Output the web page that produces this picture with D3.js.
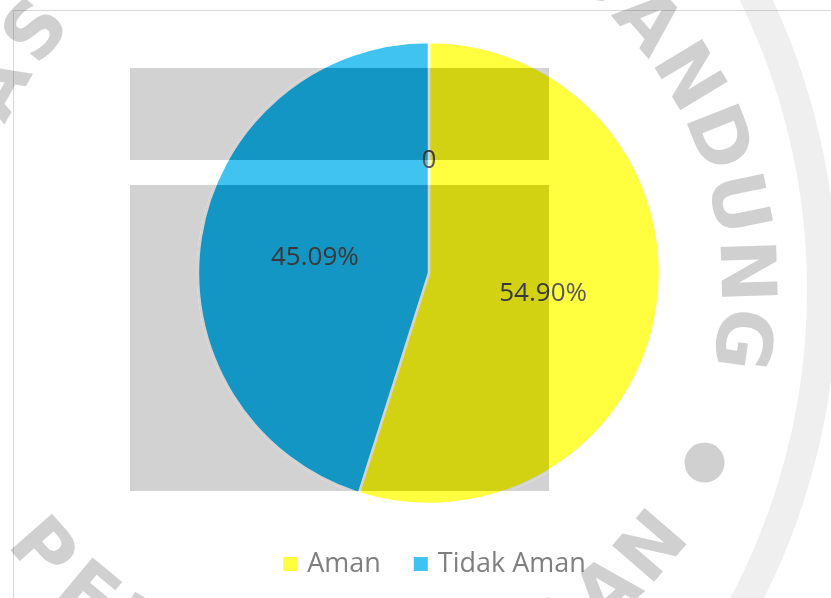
<!DOCTYPE html>
<html>
<head>
<meta charset="utf-8">
<script src="https://cdn.jsdelivr.net/npm/d3@7"></script>
<style>
  html, body { margin: 0; padding: 0; background: #fff; }
  svg { display: block; font-family: "Open Sans", sans-serif; }
  .watermark { mix-blend-mode: multiply; }
</style>
</head>
<body>
<svg id="chart" width="831" height="598"></svg>
<script>
const CATEGORIES = ["Aman", "Tidak Aman", ""];
const VALUES = [54.90, 45.09, 0];
const COLORS = ["#ffff40", "#41c3f2", "#a5a5a5"];
const LEGEND_ITEMS = ["Aman", "Tidak Aman"];

// watermark (scanned page stamp) lying over the chart
const STAMP_TOP = "UNIVERSITAS ISLAM BANDUNG";
const STAMP_BOTTOM = "PERPUSTAKAAN";

const width = 831;
const height = 598;
const cx = 429;
const cy = 273;
const radius = 231;

// the grey stamp blocks burn the colours under them by this amount
const BURN = 45;
const burn = (c) => {
  const r = d3.rgb(c);
  return d3.rgb(Math.max(0, r.r - BURN), Math.max(0, r.g - BURN), Math.max(0, r.b - BURN)).formatHex();
};

const svg = d3.select("#chart");
const defs = svg.append("defs");

const bars = [
  { x: 130, y: 68, w: 419, h: 92 },
  { x: 130, y: 185, w: 419, h: 306 },
];

defs.append("clipPath")
  .attr("id", "bars-clip")
  .selectAll("rect")
  .data(bars)
  .join("rect")
  .attr("x", (d) => d.x - cx)
  .attr("y", (d) => d.y - cy)
  .attr("width", (d) => d.w)
  .attr("height", (d) => d.h);

// chart area frame
svg.append("rect")
  .attr("x", 13.5)
  .attr("y", 10.5)
  .attr("width", width)
  .attr("height", height)
  .attr("fill", "none")
  .attr("stroke", "#d9d9d9")
  .attr("stroke-width", 1);

// grey blocks of the stamp (behind the pie; the pie part over them is burned below)
svg.append("g").selectAll(".bar")
  .data(bars)
  .join("rect")
  .attr("class", "bar")
  .attr("x", (d) => d.x)
  .attr("y", (d) => d.y)
  .attr("width", (d) => d.w)
  .attr("height", (d) => d.h)
  .attr("fill", burn("#ffffff"));

const data = CATEGORIES.map((name, i) => ({ name, value: VALUES[i], color: COLORS[i] }));

const pie = d3.pie().sort(null).value((d) => d.value);
const arc = d3.arc().innerRadius(0).outerRadius(radius);
const arcs = pie(data);

const fmt = (v) => (v === 0 ? "0" : `${d3.format(".2f")(v)}%`);

function drawPie(parent, darken) {
  const tone = (c) => (darken ? burn(c) : c);

  parent.selectAll(".slice")
    .data(arcs.filter((d) => d.data.value > 0))
    .join("path")
    .attr("class", "slice")
    .attr("d", arc)
    .attr("fill", (d) => tone(d.data.color))
    .attr("stroke", tone("#ffffff"))
    .attr("stroke-width", 2.5)
    .attr("stroke-linejoin", "round");

  parent.selectAll(".slice-label")
    .data(arcs)
    .join("text")
    .attr("class", "slice-label")
    .attr("transform", (d) => `translate(${arc.centroid(d)})`)
    .attr("text-anchor", "middle")
    .attr("dominant-baseline", "central")
    .attr("font-size", 26)
    .attr("fill", darken ? "#383838" : "#595959")
    .text((d) => fmt(d.data.value));
}

const g = svg.append("g").attr("transform", `translate(${cx},${cy})`);
drawPie(g.append("g"), false);
drawPie(g.append("g").attr("clip-path", "url(#bars-clip)"), true);

// legend
const legend = svg.append("g").attr("class", "legend");
const items = legend.selectAll(".item")
  .data(LEGEND_ITEMS)
  .join("g")
  .attr("class", "item");

items.append("rect")
  .attr("width", 14)
  .attr("height", 14)
  .attr("y", -15)
  .attr("fill", (d, i) => COLORS[i]);

items.append("text")
  .attr("x", 24)
  .attr("font-size", 27)
  .attr("fill", "#7f7f7f")
  .text((d) => d);

let offset = 0;
const itemGap = 33;
const positions = [];
items.each(function () {
  const w = 24 + this.querySelector("text").getComputedTextLength();
  positions.push(offset);
  offset += w + itemGap;
});
const legendWidth = offset - itemGap;
const legendX = 434.5 - legendWidth / 2;
items.attr("transform", (d, i) => `translate(${legendX + positions[i]},572)`);

// stamp ring and lettering, multiplied over everything
const wm = svg.append("g").attr("class", "watermark");

wm.append("circle")
  .attr("cx", 150)
  .attr("cy", 290)
  .attr("r", 672)
  .attr("fill", "none")
  .attr("stroke", "#efefef")
  .attr("stroke-width", 30);

const sx = 346;
const sy = 283;
const sr = 402;
const step = 9.8;
const charWidth = (c) => (c === " " ? 1.8 : c === "I" ? 0.6 : 1);
const rad = (a) => (a * Math.PI) / 180;

// top text runs clockwise, its last letter sits at about 8 degrees
const topChars = STAMP_TOP.split("");
let ang = 8.1;
const topPlaced = [];
for (let i = topChars.length - 1; i >= 0; i--) {
  topPlaced.unshift({ c: topChars[i], a: ang });
  const prev = topChars[i - 1];
  if (prev !== undefined) ang -= (step * (charWidth(topChars[i]) + charWidth(prev))) / 2;
}

const bottomStep = 8.9;
const bottomPlaced = STAMP_BOTTOM.split("").map((c, i) => ({ c, a: 138.7 - i * bottomStep }));

function stampLetters(cls, placed, turn) {
  wm.selectAll(`.${cls}`)
    .data(placed)
    .join("text")
    .attr("class", cls)
    .attr("transform", (d) =>
      `translate(${sx + sr * Math.cos(rad(d.a))},${sy + sr * Math.sin(rad(d.a))}) rotate(${d.a + turn})`)
    .attr("text-anchor", "middle")
    .attr("dominant-baseline", "central")
    .attr("font-family", "DejaVu Sans")
    .attr("font-weight", "bold")
    .attr("font-size", 76)
    .attr("fill", "#d0d0d0")
    .text((d) => d.c);
}

// the start of the top line runs off the page on the left
stampLetters("stamp-top", topPlaced.filter((d) => d.c !== " " && d.a > -156), 90);
stampLetters("stamp-bottom", bottomPlaced, -90);

wm.append("circle")
  .attr("cx", sx + 401 * Math.cos(rad(26.6)))
  .attr("cy", sy + 401 * Math.sin(rad(26.6)))
  .attr("r", 20)
  .attr("fill", "#d0d0d0");
</script>
</body>
</html>
